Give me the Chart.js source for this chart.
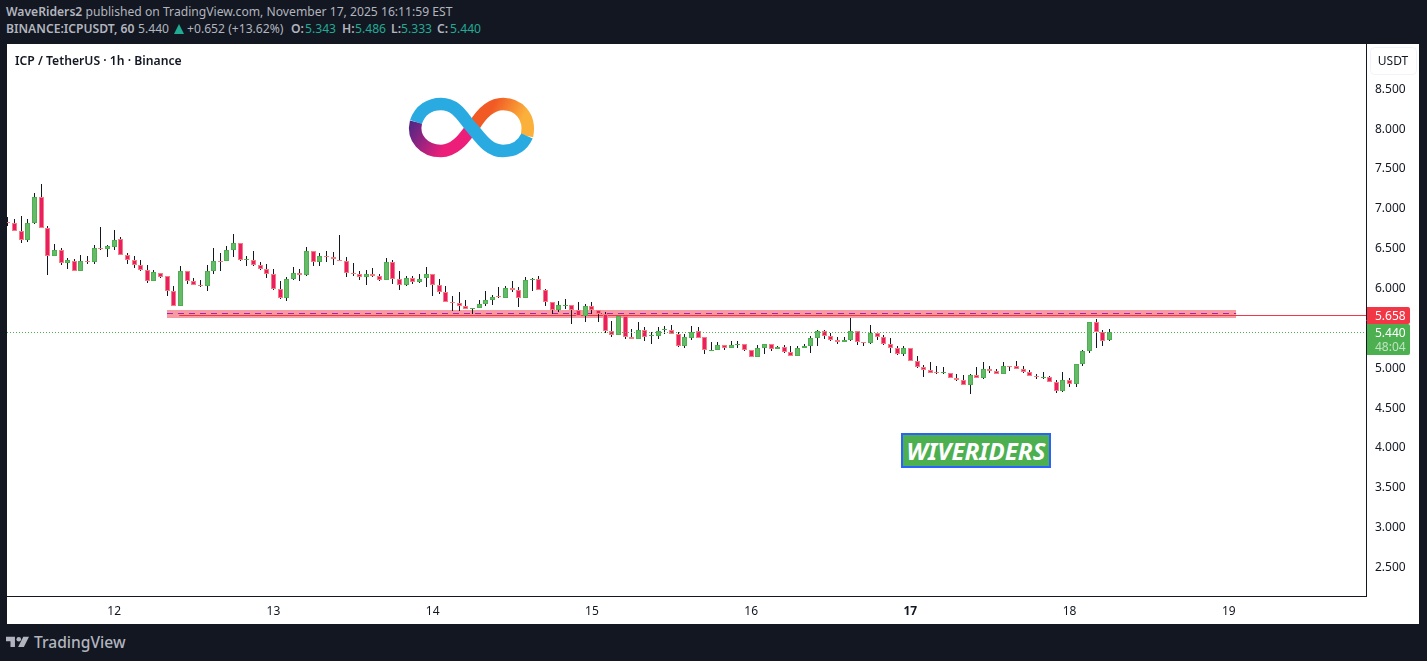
<!DOCTYPE html>
<html>
<head>
<meta charset="utf-8">
<title>ICP / TetherUS</title>
<script src="https://cdn.jsdelivr.net/npm/chart.js@4/dist/chart.umd.min.js"></script>
<style>
  html, body { margin: 0; padding: 0; background: #131722; overflow: hidden; }
  body { width: 1427px; height: 661px; position: relative; font-family: "Noto Sans", sans-serif; }
  #wrap { position: absolute; left: 7px; top: 44px; width: 1412px; height: 580px; background: #fff; }
  .hdr { position: absolute; font-size: 12.15px; line-height: 16px; color: #b2b5be; white-space: nowrap; }
  .hdr.b { font-weight: 600; }
  .hdr.g { color: #22ab94; }
  #title { position: absolute; left: 15px; top: 53px; font-size: 12.2px; line-height: 16px; font-weight: 600; color: #131722; white-space: nowrap; }
  #badge { position: absolute; left: 901px; top: 433px; width: 146px; height: 31px; border: 2px solid #2962ff; background: #4caf50;
           color: #fff; font-weight: 700; font-style: italic; font-size: 24px; line-height: 31px; text-align: center; }
  #logo { position: absolute; left: 400px; top: 90px; }
  #brand { position: absolute; left: 34px; top: 632px; font-size: 15.6px; line-height: 20px; font-weight: 500; color: #b2b5be; }
  #tvmark { position: absolute; left: 6px; top: 636px; }
  #tri { position: absolute; left: 174px; top: 24px; }
</style>
</head>
<body>
<div class="hdr" style="left:6px;top:4px"><b style="font-weight:600">WaveRiders2</b> published on TradingView.com, November 17, 2025 16:11:59 EST</div>
<div class="hdr b" style="left:6px;top:21px">BINANCE:ICPUSDT, 60</div>
<div class="hdr" style="left:138px;top:21px">5.440</div>
<svg id="tri" width="10" height="10"><path d="M0 10L5 0L10 10z" fill="#22ab94"/></svg>
<div class="hdr" style="left:187px;top:21px">+0.652 (+13.62%)</div>
<div class="hdr b" style="left:291px;top:21px">O:</div><div class="hdr g" style="left:305px;top:21px">5.343</div>
<div class="hdr b" style="left:342px;top:21px">H:</div><div class="hdr g" style="left:355px;top:21px">5.486</div>
<div class="hdr b" style="left:391px;top:21px">L:</div><div class="hdr g" style="left:401px;top:21px">5.333</div>
<div class="hdr b" style="left:437px;top:21px">C:</div><div class="hdr g" style="left:450px;top:21px">5.440</div>
<div id="wrap"><canvas id="c" width="1412" height="580"></canvas></div>
<div id="title">ICP / TetherUS · 1h · Binance</div>
<svg id="logo" width="144" height="76" viewBox="400 90 144 76" fill="none" stroke-width="12.5">
  <defs>
    <linearGradient id="gp" gradientUnits="userSpaceOnUse" x1="414" y1="118" x2="462" y2="146">
      <stop offset="0" stop-color="#522785"/><stop offset="0.75" stop-color="#ed1e79"/>
    </linearGradient>
    <linearGradient id="go" gradientUnits="userSpaceOnUse" x1="480" y1="108" x2="528" y2="132">
      <stop offset="0.2" stop-color="#f15a24"/><stop offset="0.8" stop-color="#fbb03b"/>
    </linearGradient>
  </defs>
  <path stroke="url(#go)" d="M474,126 C480,116 490,104 503,104 C518,104 531,116 527,136"/>
  <path stroke="url(#gp)" d="M416,122 C412,138 424,151 441,151 C455,151 464,138 470,130"/>
  <path stroke="#29abe2" d="M416,122 C420,110 430,104 441,104 C458,104 464,120 472,128 C480,137 488,151 503,151 C514,151 522,147 527,136"/>
</svg>
<div id="badge">WIVERIDERS</div>
<svg id="tvmark" width="23" height="13" viewBox="0 0 36 20" fill="#b2b5be">
  <path d="M0 1h14v16H7V8H0z"/><circle cx="20" cy="5" r="3.6"/><path d="M27 1h9l-8 16h-9z"/>
</svg>
<div id="brand">TradingView</div>
<script>
'use strict';

// hourly candles, first one is Nov 11 08:00, x is the candle number
const opens = [6.818,6.814,6.714,6.597,6.806,7.140,6.751,6.396,6.475,6.308,6.337,6.207,6.339,6.320,6.500,6.484,6.509,6.613,6.412,6.350,6.287,6.224,6.082,6.186,6.149,5.961,5.768,6.212,6.082,6.036,6.019,6.207,6.339,6.333,6.471,6.563,6.350,6.350,6.283,6.232,6.174,5.986,5.869,6.107,6.186,
  6.157,6.462,6.320,6.400,6.387,6.349,6.337,6.186,6.174,6.132,6.174,6.148,6.094,6.324,6.111,6.031,6.123,6.069,6.119,6.174,6.035,5.948,5.825,5.810,5.772,5.730,5.743,5.793,5.843,5.888,5.868,5.998,5.973,5.868,6.094,6.111,5.973,5.822,5.717,5.782,5.784,5.722,
  5.639,5.773,5.722,5.672,5.459,5.404,5.647,5.383,5.350,5.471,5.396,5.392,5.472,5.471,5.421,5.262,5.367,5.459,5.375,5.218,5.216,5.283,5.241,5.275,5.296,5.220,5.128,5.237,5.296,5.229,5.258,5.195,5.141,5.241,5.266,5.367,5.459,5.396,5.342,5.316,5.337,5.459,
  5.320,5.299,5.433,5.383,5.295,5.245,5.161,5.245,5.082,5.006,4.969,4.935,4.927,4.931,4.868,4.843,4.772,4.906,4.864,4.981,4.956,4.914,5.019,5.019,4.981,4.944,4.893,4.877,4.881,4.818,4.701,4.843,4.789,5.040,5.203,5.571,5.442,5.343];
const highs = [6.881,6.864,6.894,6.864,7.191,7.295,6.768,6.551,6.500,6.375,6.354,6.404,6.392,6.530,6.755,6.530,6.718,6.630,6.429,6.392,6.341,6.279,6.216,6.186,6.149,6.015,6.266,6.212,6.115,6.090,6.279,6.500,6.429,6.517,6.668,6.563,6.392,6.454,6.325,6.291,6.228,6.078,6.128,6.253,6.228,
  6.512,6.462,6.437,6.462,6.450,6.655,6.387,6.303,6.203,6.224,6.241,6.174,6.374,6.349,6.203,6.140,6.140,6.174,6.261,6.174,6.111,6.019,5.889,5.939,5.839,5.743,5.847,5.952,5.910,6.002,6.023,6.077,6.006,6.136,6.123,6.148,5.985,5.822,5.826,5.851,5.784,5.814,
  5.789,5.814,5.722,5.689,5.576,5.647,5.647,5.475,5.563,5.501,5.442,5.501,5.513,5.526,5.438,5.413,5.513,5.501,5.375,5.312,5.312,5.283,5.325,5.325,5.296,5.220,5.275,5.296,5.296,5.270,5.283,5.262,5.262,5.296,5.396,5.471,5.471,5.434,5.383,5.383,5.614,5.459,
  5.320,5.525,5.433,5.400,5.362,5.270,5.270,5.245,5.144,5.031,5.061,5.019,4.998,4.931,4.910,4.898,4.919,4.998,5.061,5.019,4.973,5.061,5.019,5.073,5.011,4.960,4.910,4.935,4.893,4.835,4.935,4.868,5.044,5.220,5.571,5.609,5.471,5.486];
const lows = [6.772,6.710,6.559,6.571,6.793,6.751,6.157,6.396,6.283,6.232,6.207,6.207,6.295,6.295,6.471,6.379,6.471,6.408,6.295,6.245,6.207,6.057,6.082,6.120,5.894,5.768,5.768,6.044,6.032,6.007,5.956,6.170,6.207,6.333,6.379,6.333,6.270,6.270,6.220,6.120,5.969,5.856,5.831,6.094,6.082,
  6.144,6.266,6.266,6.316,6.282,6.333,6.132,6.144,6.094,6.031,6.132,6.082,6.094,6.044,5.969,6.019,6.044,6.056,6.006,5.893,5.918,5.822,5.705,5.705,5.730,5.667,5.743,5.768,5.780,5.872,5.868,5.943,5.751,5.868,5.956,5.969,5.768,5.663,5.692,5.730,5.542,5.638,
  5.563,5.664,5.563,5.425,5.375,5.404,5.350,5.350,5.350,5.325,5.287,5.350,5.413,5.413,5.250,5.237,5.337,5.363,5.162,5.212,5.216,5.212,5.241,5.237,5.199,5.128,5.128,5.162,5.199,5.224,5.174,5.141,5.141,5.241,5.174,5.262,5.350,5.325,5.287,5.316,5.325,5.275,
  5.262,5.287,5.337,5.274,5.174,5.149,5.136,5.078,4.985,4.872,4.927,4.910,4.910,4.864,4.822,4.776,4.659,4.864,4.847,4.923,4.919,4.914,4.948,4.973,4.927,4.889,4.852,4.847,4.814,4.676,4.688,4.747,4.747,5.015,5.174,5.236,5.262,5.333];
const closes = [6.810,6.710,6.601,6.814,7.140,6.751,6.396,6.475,6.308,6.341,6.207,6.337,6.333,6.500,6.484,6.517,6.601,6.408,6.345,6.283,6.220,6.082,6.191,6.132,5.961,5.768,6.212,6.082,6.032,6.019,6.212,6.337,6.333,6.475,6.563,6.345,6.353,6.283,6.232,6.170,5.981,5.869,6.111,6.186,6.157,
  6.462,6.324,6.400,6.383,6.358,6.333,6.182,6.169,6.132,6.174,6.148,6.094,6.324,6.107,6.035,6.123,6.069,6.111,6.174,6.035,5.943,5.822,5.819,5.768,5.730,5.743,5.797,5.847,5.885,5.882,5.998,5.969,5.868,6.098,6.111,5.969,5.818,5.717,5.784,5.786,5.717,5.646,
  5.773,5.714,5.668,5.455,5.404,5.647,5.375,5.350,5.471,5.375,5.400,5.459,5.476,5.417,5.262,5.375,5.446,5.367,5.216,5.222,5.283,5.237,5.283,5.296,5.216,5.128,5.245,5.296,5.224,5.258,5.191,5.141,5.245,5.270,5.371,5.459,5.396,5.342,5.321,5.346,5.459,5.321,
  5.308,5.433,5.379,5.287,5.236,5.161,5.245,5.078,4.998,4.965,4.927,4.927,4.935,4.864,4.839,4.776,4.906,4.864,4.981,4.952,4.919,5.019,5.015,4.977,4.939,4.889,4.877,4.881,4.814,4.701,4.843,4.793,5.044,5.207,5.571,5.442,5.329,5.440];

// day boundaries on the time axis, candle number -> label
const dayTickAt = [16, 40, 64, 88, 112, 136, 160, 184];
const dayTickLabels = ['12', '13', '14', '15', '16', '17', '18', '19'];
const priceTicks = [2.5, 3, 3.5, 4, 4.5, 5, 5.5, 6, 6.5, 7, 7.5, 8, 8.5];

// the drawing on top of the candles
const zoneFrom = 23.96, zoneTo = 185.1, zoneTop = 5.714, zoneBottom = 5.613, zoneMid = 5.68;
const lineFrom = 25.8;
const resistance = 5.658;
const lastPrice = 5.440;
const countdown = '48:04';

const xMin = -0.15, xMax = 204.67;
const yMin = 2.129, yMax = 9.057;

const UP = '#66bb6a', UP_EDGE = '#4caf50', DOWN = '#e91e63', DOWN_EDGE = '#f77c80';

const isUp = opens.map((o, i) => closes[i] >= o);
const wickData = highs.map((h, i) => ({x: i, y: [lows[i], h]}));
const bodyData = opens.map((o, i) => ({x: i, y: [Math.min(o, closes[i]), Math.max(o, closes[i])]}));

function hline(x0, x1, y){
  return [{x: x0, y: y}, {x: x1, y: y}];
}

// TradingView keeps candles and lines on whole pixels, they come out blurred otherwise
const snapToPixels = {
  id: 'snapToPixels',
  afterDatasetsUpdate(chart){
    chart.data.datasets.forEach((ds, n) => {
      var meta = chart.getDatasetMeta(n);
      if(ds.type === 'bar'){
        meta.data.forEach(el => {
          el.x = Math.floor(el.x) + 0.5;
          var top = Math.round(Math.min(el.y, el.base));
          var bottom = Math.round(Math.max(el.y, el.base));
          if(bottom <= top) bottom = top + 1;
          el.y = top;
          el.base = bottom;
          el.height = bottom - top;
        });
      } else {
        meta.data.forEach(el => {
          el.y = ds.borderWidth === 0 ? Math.round(el.y) : Math.round(el.y) + 0.5;
        });
      }
    });
  }
};

function roundedTag(ctx, x, y, w, h, color){
  ctx.fillStyle = color;
  ctx.beginPath();
  ctx.roundRect(x, y, w, h, [0, 2, 2, 0]);
  ctx.fill();
}

const axisExtras = {
  id: 'axisExtras',
  afterDraw(chart){
    const ctx = chart.ctx;
    const yScale = chart.scales.y;
    const left = chart.chartArea.right + 1;
    ctx.save();
    ctx.textBaseline = 'middle';
    ctx.font = '12px "Noto Sans"';

    // USDT button
    ctx.strokeStyle = '#f0f3fa';
    ctx.lineWidth = 1;
    ctx.beginPath();
    ctx.roundRect(1363.5, 3.5, 46, 27, 4);
    ctx.stroke();
    ctx.fillStyle = '#131722';
    ctx.textAlign = 'center';
    ctx.fillText('USDT', 1386, 18);
    ctx.textAlign = 'left';

    var rY = Math.round(yScale.getPixelForValue(resistance));
    var lY = Math.round(yScale.getPixelForValue(lastPrice));
    roundedTag(ctx, left, rY - 8, 43, 17, '#f23645');
    roundedTag(ctx, left, rY + 9, 43, 31, '#4caf50');
    ctx.fillStyle = '#fff';
    ctx.fillText(resistance.toFixed(3), left + 8, rY + 2);
    ctx.fillText(lastPrice.toFixed(3), left + 8, lY + 2);
    ctx.fillStyle = 'rgba(255,255,255,0.65)';
    ctx.fillText(countdown, left + 8, lY + 16);
    ctx.restore();
  }
};

new Chart(document.getElementById('c'), {
  data: {
    datasets: [
      {type: 'bar', data: wickData, backgroundColor: '#131722', borderWidth: 0, barThickness: 1, inflateAmount: 0, order: 3},
      {type: 'bar', data: bodyData, barThickness: 5, inflateAmount: 0, borderWidth: 1, borderSkipped: false, order: 2,
        backgroundColor: isUp.map(u => u ? UP : DOWN),
        borderColor: isUp.map(u => u ? UP_EDGE : DOWN_EDGE)},
      {type: 'line', data: hline(zoneFrom, zoneTo, zoneTop), borderWidth: 0, pointRadius: 0, fill: '+1', backgroundColor: 'rgba(242,54,69,0.5)', order: 5},
      {type: 'line', data: hline(zoneFrom, zoneTo, zoneBottom), borderWidth: 0, pointRadius: 0, fill: false, order: 5},
      {type: 'line', data: hline(zoneFrom, zoneTo, zoneMid), borderColor: '#9c27b0', borderWidth: 1, borderDash: [6, 5], pointRadius: 0, fill: false, order: 4},
      {type: 'line', data: hline(lineFrom, xMax, resistance), borderColor: '#f23645', borderWidth: 1, pointRadius: 0, fill: false, order: 4},
      {type: 'line', data: hline(xMin, xMax, lastPrice), borderColor: '#4caf50', borderWidth: 1, borderDash: [1, 2], pointRadius: 0, fill: false, order: 1}
    ]
  },
  options: {
    responsive: false,
    animation: false,
    devicePixelRatio: 1,
    parsing: {xAxisKey: 'x', yAxisKey: 'y'},
    datasets: {bar: {grouped: false}},
    layout: {padding: 0, autoPadding: false},
    plugins: {legend: {display: false}, tooltip: {enabled: false}},
    scales: {
      x: {
        type: 'linear', min: xMin, max: xMax, offset: false,
        afterBuildTicks(axis){ axis.ticks = dayTickAt.map(v => ({value: v})); },
        afterFit(axis){ axis.height = 28; axis.paddingLeft = 0; axis.paddingRight = 0; },
        grid: {display: false, drawTicks: false},
        border: {display: true, color: '#131722', width: 1},
        ticks: {
          autoSkip: false, maxRotation: 0, padding: 8, color: '#131722',
          font: c => ({family: '"Noto Sans"', size: 12, weight: c.tick && c.tick.value === 136 ? 'bold' : 'normal'}),
          callback: v => dayTickLabels[dayTickAt.indexOf(v)]
        }
      },
      y: {
        position: 'right', min: yMin, max: yMax,
        afterBuildTicks(axis){ axis.ticks = priceTicks.map(v => ({value: v})); },
        afterFit(axis){ axis.width = 53; axis.paddingTop = 0; axis.paddingBottom = 0; },
        grid: {display: false, drawTicks: false},
        border: {display: true, color: '#131722', width: 1},
        ticks: {
          autoSkip: false, padding: 9, labelOffset: 1, color: '#131722', crossAlign: 'near',
          font: {family: '"Noto Sans"', size: 12},
          callback: v => v.toFixed(3)
        }
      }
    }
  },
  plugins: [snapToPixels, axisExtras]
});
</script>
</body>
</html>
